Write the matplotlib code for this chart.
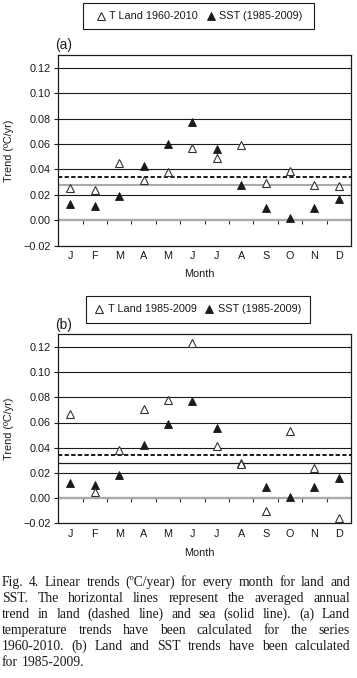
import numpy as np
import matplotlib
matplotlib.use('Agg')
import matplotlib.pyplot as plt
from matplotlib.patches import Rectangle
from matplotlib.ticker import NullFormatter

# ---------------- data ----------------
months = ['J', 'F', 'M', 'A', 'M', 'J', 'J', 'A', 'S', 'O', 'N', 'D']
land_a = [0.025, 0.024, 0.045, 0.032, 0.038, 0.057, 0.049, 0.059, 0.029, 0.039, 0.028, 0.027]
sst_a = [0.013, 0.011, 0.019, 0.043, 0.060, 0.077, 0.056, 0.028, 0.010, 0.002, 0.010, 0.017]
land_b = [0.067, 0.005, 0.038, 0.071, 0.078, 0.123, 0.041, 0.027, -0.010, 0.053, 0.024, -0.016]
sst_b = [0.012, 0.010, 0.018, 0.042, 0.059, 0.077, 0.056, 0.028, 0.009, 0.001, 0.009, 0.016]
land_avg = [0.034, 0.034]
sst_avg = [0.028, 0.028]
yticks = [-0.02, 0.00, 0.02, 0.04, 0.06, 0.08, 0.10, 0.12]
legend_a = ['T Land 1960-2010', 'SST (1985-2009)']
legend_b = ['T Land 1985-2009', 'SST (1985-2009)']
panel_labels = ['(a)', '(b)']
xlabel = 'Month'
ylabel = 'Trend (ºC/yr)'
caption = [
    'Fig. 4. Linear trends (ºC/year) for every month for land and',
    'SST. The horizontal lines represent the averaged annual',
    'trend in land (dashed line) and sea (solid line). (a) Land',
    'temperature trends have been calculated for the series',
    '1960-2010. (b) Land and SST trends have been calculated',
    'for 1985-2009.',
]

# ---------------- layout ----------------
W, H = 357, 678
fig = plt.figure(figsize=(W / 100, H / 100), dpi=100)
plt.rcParams['font.family'] = ['Liberation Sans', 'DejaVu Sans']
DARK = '#1a1a1a'
GRAY = '#ababab'
FS = 7.8


def rect(left, top, right, bottom):
    return [left / W, 1 - bottom / H, (right - left) / W, (bottom - top) / H]


def fx(x):
    return x / W


def fy(y):
    return 1 - y / H


panels = [
    dict(box=(58.3, 55, 351, 245.7), land=land_a, sst=sst_a, lavg=land_avg[0], savg=sst_avg[0],
         scol=GRAY, leg=legend_a, legbox=(83, 3.3, 314, 29.3), legc=(199.4, 16.3),
         lab=panel_labels[0], labpos=(55, 45), xlab_y=274),
    dict(box=(58.3, 334.3, 351, 523.3), land=land_b, sst=sst_b, lavg=land_avg[1], savg=sst_avg[1],
         scol=DARK, leg=legend_b, legbox=(86, 296, 310, 322.7), legc=(197.9, 309.3),
         lab=panel_labels[1], labpos=(55, 325.5), xlab_y=553),
]

x = np.arange(len(months))

for p in panels:
    ax = fig.add_axes(rect(*p['box']))
    ax.set_xlim(-0.5, len(months) - 0.5)
    ax.set_ylim(-0.02, 0.13)
    for v in yticks:
        if v > 0:
            ax.axhline(v, color=DARK, lw=0.8, zorder=1)
    ax.axhline(0, color=GRAY, lw=1.7, zorder=1)
    ax.axhline(p['savg'], color=p['scol'], lw=1.5 if p['scol'] == GRAY else 0.9, zorder=1.2)
    ax.axhline(p['lavg'], color=DARK, lw=1.4, ls=(0, (2.2, 1.2)), zorder=1.3)

    h_sst, = ax.plot(x, p['sst'], ls='none', marker='^', ms=5.6, mfc=DARK, mec=DARK, mew=0.6, zorder=3)
    h_land, = ax.plot(x, p['land'], ls='none', marker='^', ms=5.6, mfc='white', mec='#333333', mew=0.8, zorder=4)

    ax.set_yticks(yticks)
    ax.set_yticklabels([f'{v:.2f}'.replace('-', '\u2212') for v in yticks])
    ax.set_xticks(x)
    ax.set_xticklabels(months)
    ax.tick_params(axis='x', length=0, pad=4, labelsize=FS, colors=DARK)
    ax.tick_params(axis='y', length=3, width=0.8, pad=2.5, labelsize=FS, colors=DARK)
    for s in ax.spines.values():
        s.set_color(DARK)
        s.set_linewidth(0.9)

    # tick marks between months on the zero line
    y0, y1 = ax.get_ylim()
    sec = ax.secondary_xaxis((0 - y0) / (y1 - y0))
    sec.set_xticks(x[:-1] + 0.5)
    sec.xaxis.set_major_formatter(NullFormatter())
    sec.tick_params(length=3.2, width=0.8, color='#333333')
    for s in sec.spines.values():
        s.set_visible(False)

    # legend box
    l, t, r, b = p['legbox']
    fig.add_artist(Rectangle((fx(l), fy(b)), (r - l) / W, (b - t) / H, transform=fig.transFigure,
                             fill=False, ec=DARK, lw=0.8))
    fig.legend([h_land, h_sst], p['leg'], loc='center',
               bbox_to_anchor=(fx(p['legc'][0]), fy(p['legc'][1])), bbox_transform=fig.transFigure,
               ncol=2, frameon=False, handlelength=0.8, handletextpad=0.35, columnspacing=0.8,
               fontsize=FS, borderpad=0, borderaxespad=0, labelcolor=DARK)

    fig.text(fx(p['labpos'][0]), fy(p['labpos'][1]), p['lab'], fontsize=9.8, color=DARK,
             ha='left', va='center')
    fig.text(fx(199), fy(p['xlab_y']), xlabel, fontsize=FS, color=DARK, ha='center', va='center')
    top, bot = p['box'][1], p['box'][3]
    fig.text(fx(9), fy((top + bot) / 2), ylabel, fontsize=FS, color=DARK, rotation=90,
             ha='center', va='center')

# ---------------- caption (justified) ----------------
renderer = fig.canvas.get_renderer()
SERIF = ['Liberation Serif', 'DejaVu Serif']


def width_of(s, fs):
    t = fig.text(0, 0, s, fontsize=fs, family=SERIF)
    w = t.get_window_extent(renderer).width
    t.remove()
    return w


x_left, x_right = 2.0, 350.0
avail = x_right - x_left
cfs = 9.8
# keep at least a small gap between words
widest = max(width_of(line, cfs) - (len(line.split(' ')) - 1) * (width_of('a b', cfs) - width_of('ab', cfs))
             + (len(line.split(' ')) - 1) * 1.2 for line in caption[:-1])
if widest > avail:
    cfs = cfs * avail / widest

base0, step = 586.0, 16.0
for i, line in enumerate(caption):
    words = line.split(' ')
    ws = [width_of(w, cfs) for w in words]
    if i < len(caption) - 1 and len(words) > 1:
        gap = (avail - sum(ws)) / (len(words) - 1)
    else:
        gap = width_of('a b', cfs) - width_of('ab', cfs)
    xp = x_left
    for w, wd in zip(words, ws):
        fig.text(fx(xp), fy(base0 + i * step), w, fontsize=cfs, family=SERIF, color=DARK,
                 ha='left', va='baseline')
        xp += wd + gap

fig.savefig('out.png', dpi=100)
